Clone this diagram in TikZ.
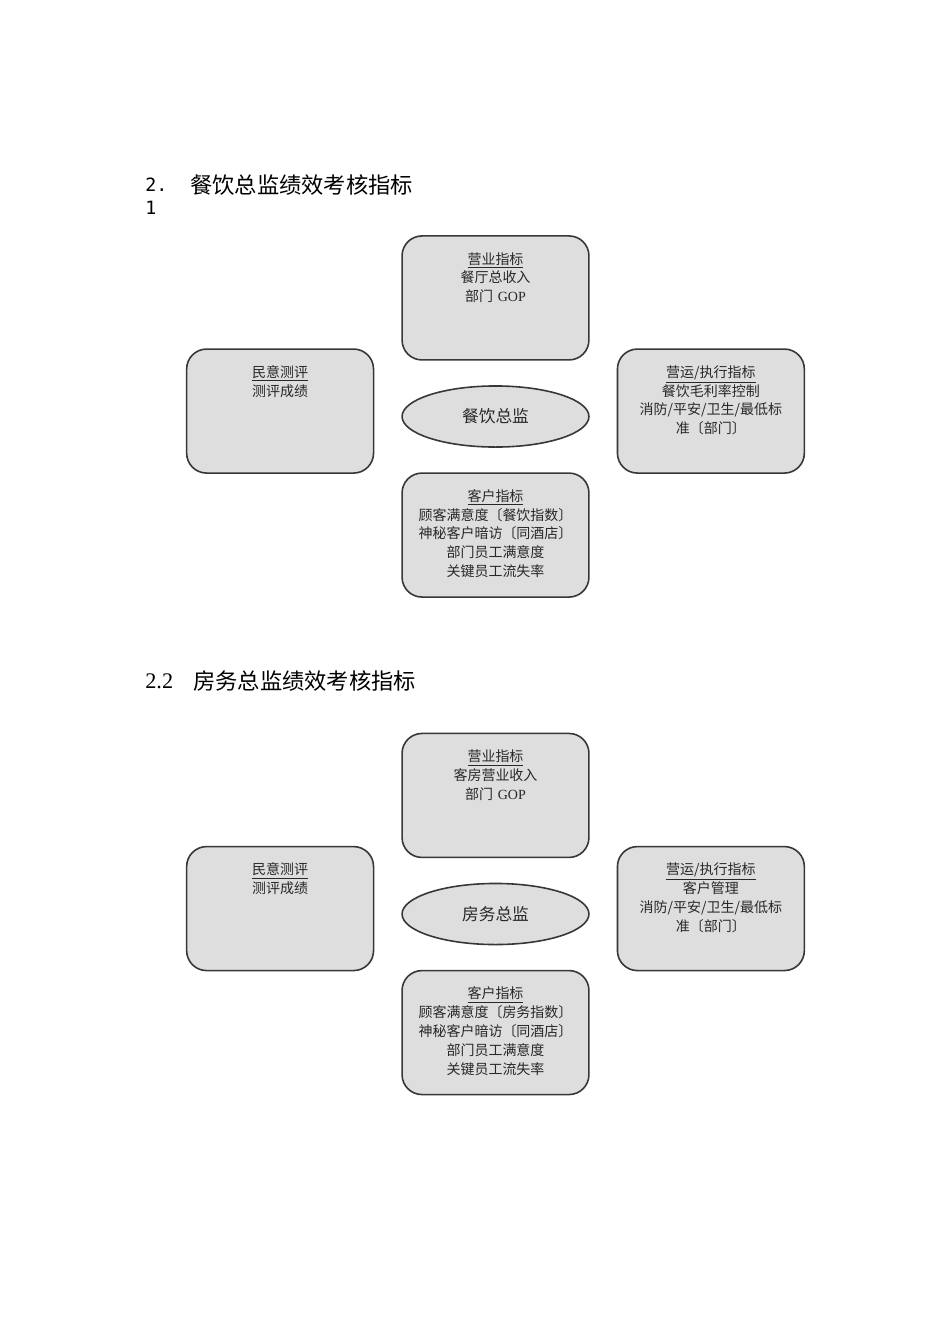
\documentclass[tikz,border=0pt]{standalone}
\usepackage{fontspec}
\setmainfont{Noto Sans CJK SC}
\newfontfamily\latinserif{Liberation Serif}
\setmonofont{DejaVu Sans Mono}
\usetikzlibrary{shapes,positioning}

\definecolor{boxfill}{RGB}{222,222,222}
\definecolor{boxline}{RGB}{55,55,55}
\definecolor{boxtext}{RGB}{40,40,40}

\begin{document}
\begin{tikzpicture}[x=0.221mm,y=-0.221mm,node distance=5.4mm and 5.95mm,
                    box/.style={rectangle,rounded corners=4.4mm,draw=boxline,
                      fill=boxfill,line width=1pt,inner sep=0pt,
                      text width=41.3mm,align=center,text=boxtext,
                      text height=6.2mm,text depth=21.2mm,
                      font=\fontsize{8.8pt}{11.9pt}\selectfont},
                    head/.style={ellipse,draw=boxline,fill=boxfill,
                      line width=1pt,inner sep=0pt,minimum width=41.3mm,
                      minimum height=13.5mm,text=boxtext,
                      font=\fontsize{10.5pt}{12pt}\selectfont},
                    title/.style={anchor=west,inner sep=0pt,
                      font=\fontsize{14pt}{16pt}\selectfont}]

  \useasboundingbox (0,0) rectangle (950,1344);

  % 2.1
  \node[inner sep=0pt,anchor=west,font=\ttfamily\fontsize{11.5pt}{13pt}\selectfont]
        (t1a) at (145,185) {2.};
  \node[inner sep=0pt,anchor=west,font=\ttfamily\fontsize{11.5pt}{13pt}\selectfont]
        (t1b) at (145,208) {1};
  \node[title] (t1) at (190,185) {餐饮总监绩效考核指标};

  \node[head]                    (c1) at (495.5,416.5) {餐饮总监};
  \node[box] (top1)    [above=of c1]             {\underline{营业指标}\\ 餐厅总收入\\ 部门 {\latinserif GOP}};
  \node[box] (left1)   [left=of c1,yshift=1.2mm]  {\underline{民意测评}\\ 测评成绩};
  \node[box] (right1)  [right=of c1,yshift=1.2mm] {\underline{营运/执行指标}\\ 餐饮毛利率控制\\ 消防/平安/卫生/最低标\\ 准〔部门〕};
  \node[box] (bottom1) [below=of c1]             {\underline{客户指标}\\ 顾客满意度〔餐饮指数〕\\ 神秘客户暗访〔同酒店〕\\ 部门员工满意度\\ 关键员工流失率};

  % 2.2
  \node[title] (t2a) at (145,681) {\latinserif 2.2};
  \node[title] (t2) at (193,681) {房务总监绩效考核指标};

  \node[head]                    (c2) at (495.5,914) {房务总监};
  \node[box] (top2)    [above=of c2]             {\underline{营业指标}\\ 客房营业收入\\ 部门 {\latinserif GOP}};
  \node[box] (left2)   [left=of c2,yshift=1.2mm]  {\underline{民意测评}\\ 测评成绩};
  \node[box] (right2)  [right=of c2,yshift=1.2mm] {\underline{营运/执行指标}\\ 客户管理\\ 消防/平安/卫生/最低标\\ 准〔部门〕};
  \node[box] (bottom2) [below=of c2]             {\underline{客户指标}\\ 顾客满意度〔房务指数〕\\ 神秘客户暗访〔同酒店〕\\ 部门员工满意度\\ 关键员工流失率};
\end{tikzpicture}
\end{document}
